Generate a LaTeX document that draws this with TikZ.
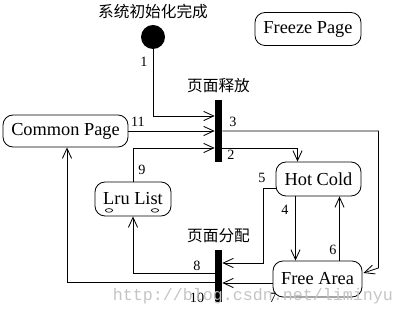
\documentclass[tikz,border=0pt]{standalone}
\usepackage{fontspec}
\setmainfont{Liberation Serif}
\setmonofont{Liberation Mono}
\newfontfamily\cjkfont{Noto Sans CJK SC}
\usetikzlibrary{positioning, arrows.meta, calc}
\definecolor{markgray}{HTML}{C4C4C4}

\begin{document}
\begin{tikzpicture}[x=0.6pt, y=-0.6pt,
    state/.style={rectangle, draw, rounded corners=6pt, minimum height=20pt, inner sep=1pt, font=\fontsize{11}{13}\selectfont, line width=0.5pt},
    bar/.style={rectangle, fill=black, inner sep=0pt, minimum width=4.2pt},
    num/.style={font=\fontsize{8.5}{10}\selectfont, inner sep=0pt},
    zhlabel/.style={font=\cjkfont\fontsize{9.4}{11}\selectfont, inner sep=0pt},
    arr/.style={-{Straight Barb[length=6pt, width=5.5pt]}, line width=0.5pt},
  ]
    \useasboundingbox (0,0) rectangle (406,316);

    \node[circle, fill=black, minimum size=14.4pt, inner sep=0pt] (init) at (153,37) {};
    \node[zhlabel, above=3pt of init] (initcap) {系统初始化完成};
    \node[state, minimum width=63.6pt, minimum height=19.8pt] (freeze) at (308,29) {Freeze Page};
    \node[state, minimum width=75pt, minimum height=19.2pt] (common) at (65.5,131) {Common Page};
    \node[state, minimum width=45.6pt, minimum height=20.4pt] (lru) at (133,199) {Lru List};
    \node[state, minimum width=51pt, minimum height=20.4pt] (hot) at (318.5,179) {Hot Cold};
    \node[state, minimum width=53.4pt, minimum height=21.6pt] (free) at (317.5,279) {Free Area};

    \node[bar, minimum height=37.2pt] (bar1) at (218.5,131) {};
    \node[bar, minimum height=31.2pt] (bar2) at (218.5,276) {};
    \node[zhlabel, above=4pt of bar1] (bar1cap) {页面释放};
    \node[zhlabel, above=4pt of bar2] (bar2cap) {页面分配};

    % little marks under Lru List
    \draw[line width=0.4pt] ($(lru.south)+(-24,-6)$) ellipse [x radius=2.2pt, y radius=1.1pt];
    \draw[line width=0.4pt] ($(lru.south)+(22,-6)$) ellipse [x radius=2.2pt, y radius=1.1pt];

    % into 页面释放
    \draw[arr] (init) |- ($(bar1.west)+(0,-15)$);
    \draw[arr] (common.east) -- (common.east -| bar1.west);
    \draw[arr] (lru.north) |- ($(bar1.west)+(0,17)$);

    % out of 页面释放
    \draw[arr] ($(bar1.east)+(0,17)$) -| ($(hot.north)+(-21,0)$);
    \draw[arr] (bar1.east) -| ($(free.east)+(16,-11)$) -- ($(free.east)+(1,-6)$);

    % between Hot Cold and Free Area
    \draw[arr] ($(hot.south)+(-23,0)$) -- ($(free.north)+(-22,0)$);
    \draw[arr] ($(free.north)+(22,0)$) -- ($(hot.south)+(21,0)$);

    % into 页面分配
    \draw[arr] ($(hot.west)+(0,9)$) -| ($(bar2.east)+(41,-13)$) -- ($(bar2.east)+(0,-13)$);
    \draw[arr] ($(free.west)+(0,4)$) -- ($(bar2.east)+(0,7)$);

    % out of 页面分配
    \draw[arr] ($(bar2.west)+(0,-3)$) -| (lru.south);
    \draw[arr] ($(bar2.west)+(0,6)$) -| ($(common.south)+(1.5,0)$);

    \node[num] (n1) at (144,62) {1};
    \node[num] (n2) at (231,155) {2};
    \node[num] (n3) at (233,122) {3};
    \node[num] (n4) at (285,210) {4};
    \node[num] (n5) at (262,178) {5};
    \node[num] (n6) at (333,250) {6};
    \node[num] (n7) at (273,298) {7};
    \node[num] (n8) at (197,266) {8};
    \node[num] (n9) at (142,170) {9};
    \node[num] (n10) at (197,298) {10};
    \node[num] (n11) at (138,122) {11};

    \node[font=\ttfamily\fontsize{10}{12}\selectfont, text=markgray, inner sep=0pt] (mark) at (253,296) {http://blog.csdn.net/liminyu};
  \end{tikzpicture}
\end{document}
